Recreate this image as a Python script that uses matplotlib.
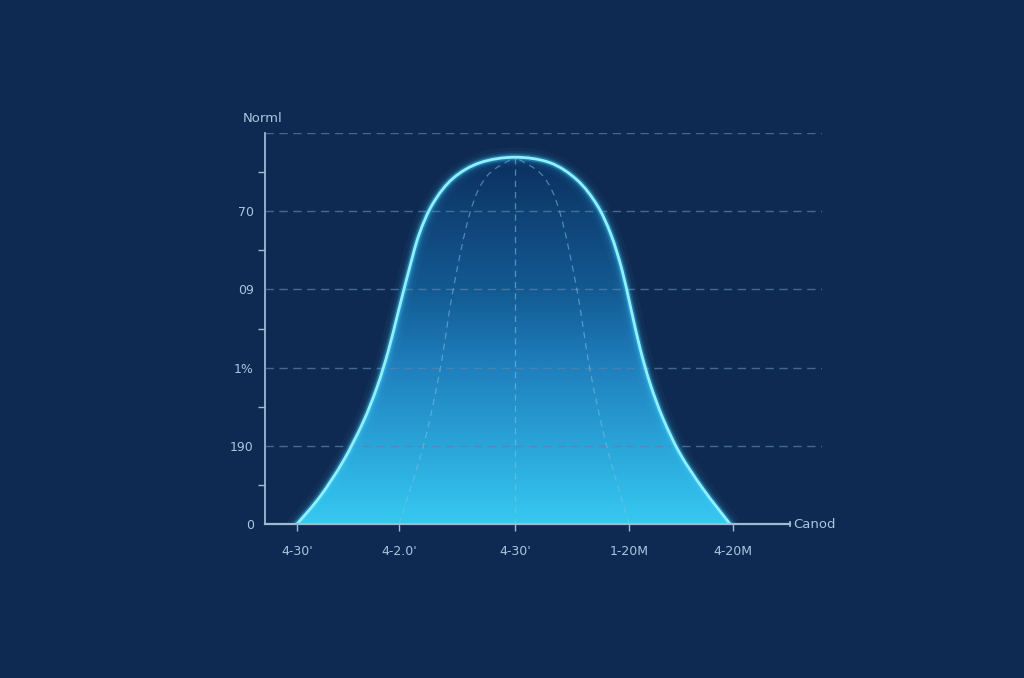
import numpy as np
import matplotlib
matplotlib.use("Agg")
import matplotlib.pyplot as plt
from matplotlib.path import Path
from matplotlib.patches import PathPatch
from matplotlib.colors import LinearSegmentedColormap

# ---- data ----
curve_x = [-2.18, -1.95, -1.72, -1.52, -1.38, -1.27, -1.17, -1.07, -0.96, -0.82, -0.62, -0.35, 0.0,
           0.35, 0.62, 0.82, 0.96, 1.07, 1.16, 1.25, 1.35, 1.48, 1.65, 1.88, 2.15]
curve_y = [0.0, 0.35, 0.80, 1.30, 1.75, 2.20, 2.70, 3.20, 3.70, 4.10, 4.42, 4.62, 4.69,
           4.62, 4.40, 4.08, 3.70, 3.25, 2.75, 2.25, 1.80, 1.35, 0.90, 0.45, 0.0]
inner_left_x = [-1.16, -0.92, -0.75, -0.62, -0.45, -0.28, 0.0]
inner_left_y = [0.0, 0.98, 1.97, 2.99, 3.98, 4.45, 4.69]
inner_right_x = [1.14, 0.92, 0.75, 0.62, 0.45, 0.28, 0.0]
inner_right_y = [0.0, 0.98, 1.97, 2.99, 3.98, 4.45, 4.69]
x_ticks = [-2.18, -1.16, 0.0, 1.14, 2.18]
x_tick_labels = ["4-30'", "4-2.0'", "4-30'", "1-20M", "4-20M"]
y_ticks = [0, 1, 2, 3, 4, 5]
y_tick_labels = ["0", "190", "1%", "09", "70", ""]
y_minor = [0.5, 1.5, 2.5, 3.5, 4.5]
y_title = "Norml"
x_title = "Canod"

BG = "#0f2a52"
TXT = "#a9c6df"
AX = "#9fbad2"
GRID = "#5a84ab"


def smooth_path(xs, ys, close_base=False):
    pts = np.column_stack([xs, ys]).astype(float)
    verts = [pts[0]]
    codes = [Path.MOVETO]
    n = len(pts)
    for i in range(n - 1):
        p0 = pts[i - 1] if i > 0 else pts[i]
        p1 = pts[i]
        p2 = pts[i + 1]
        p3 = pts[i + 2] if i + 2 < n else pts[i + 1]
        c1 = p1 + (p2 - p0) / 6.0
        c2 = p2 - (p3 - p1) / 6.0
        verts += [c1, c2, p2]
        codes += [Path.CURVE4] * 3
    if close_base:
        verts += [pts[0], pts[0]]
        codes += [Path.LINETO, Path.CLOSEPOLY]
    return Path(verts, codes)


fig = plt.figure(figsize=(10.24, 6.78), dpi=100, facecolor=BG)
ax = fig.add_axes([265 / 1024, 1 - 524 / 678, 557 / 1024, 391 / 678])
ax.set_facecolor(BG)
ax.set_xlim(-2.5, 3.07)
ax.set_ylim(0, 5)

# grid lines (drawn over the fill, faint)
for yv in y_ticks[1:]:
    ax.axhline(yv, color=GRID, lw=1.0, ls=(0, (6, 4)), alpha=0.7, zorder=3)

# gradient fill clipped by the curve (bright at the base, dark at the top)
cmap = LinearSegmentedColormap.from_list(
    "g", [(0.0, "#0b2f5e"), (0.15, "#0f4275"), (0.36, "#135a92"),
          (0.57, "#1f7fbd"), (0.79, "#2aa5d9"), (1.0, "#36c9f0")])
grad = np.linspace(1, 0, 256).reshape(-1, 1)
fill_path = smooth_path(curve_x, curve_y, close_base=True)
im = ax.imshow(grad, extent=[min(curve_x), max(curve_x), 0, max(curve_y)],
               aspect="auto", cmap=cmap, origin="lower", zorder=2)
clip = PathPatch(fill_path, transform=ax.transData, facecolor="none", edgecolor="none")
ax.add_patch(clip)
im.set_clip_path(clip)

# inner dashed meridians
ax.plot([0, 0], [0, max(curve_y)], color="#7fc0e6", lw=0.9, ls=(0, (5, 4)), alpha=0.6, zorder=3)
for xs, ys in [(inner_left_x, inner_left_y), (inner_right_x, inner_right_y)]:
    p = smooth_path(xs, ys)
    ax.add_patch(PathPatch(p, facecolor="none", edgecolor="#7fc0e6", lw=0.9,
                           ls=(0, (5, 4)), alpha=0.55, zorder=3))

# glowing curve
line_path = smooth_path(curve_x, curve_y)
for lw, a in [(14, 0.04), (9, 0.08), (6, 0.15), (4, 0.3)]:
    ax.add_patch(PathPatch(line_path, facecolor="none", edgecolor="#3fd0ff", lw=lw,
                           alpha=a, zorder=4, capstyle="round", joinstyle="round"))
ax.add_patch(PathPatch(line_path, facecolor="none", edgecolor="#8ff0ff", lw=2.0, zorder=5))

# spines
for s in ["top", "right"]:
    ax.spines[s].set_visible(False)
ax.spines["left"].set_color(AX)
ax.spines["left"].set_linewidth(1.3)
ax.spines["bottom"].set_color(AX)
ax.spines["bottom"].set_linewidth(1.6)
ax.spines["bottom"].set_bounds(-2.5, 2.75)
ax.spines["bottom"].set_zorder(6)
ax.plot([2.75, 2.75], [-0.03, 0.03], color=AX, lw=1.3, clip_on=False, zorder=6)

ax.set_yticks(y_ticks)
ax.set_yticklabels(y_tick_labels)
ax.set_yticks(y_minor, minor=True)
ax.tick_params(axis="y", which="major", length=0, pad=8, labelsize=9, labelcolor=TXT)
ax.tick_params(axis="y", which="minor", length=5, width=1.0, color=AX, direction="out")
ax.set_xticks(x_ticks)
ax.set_xticklabels(x_tick_labels)
ax.tick_params(axis="x", which="major", length=5, width=1.0, color=AX, direction="out",
               pad=10, labelsize=9, labelcolor=TXT)

ax.text(-2.52, 5.18, y_title, color=TXT, fontsize=9.5, ha="center", va="center")
ax.text(2.78, 0.0, x_title, color=TXT, fontsize=9.5, ha="left", va="center", clip_on=False)

fig.savefig("out.png", dpi=100, facecolor=BG)
